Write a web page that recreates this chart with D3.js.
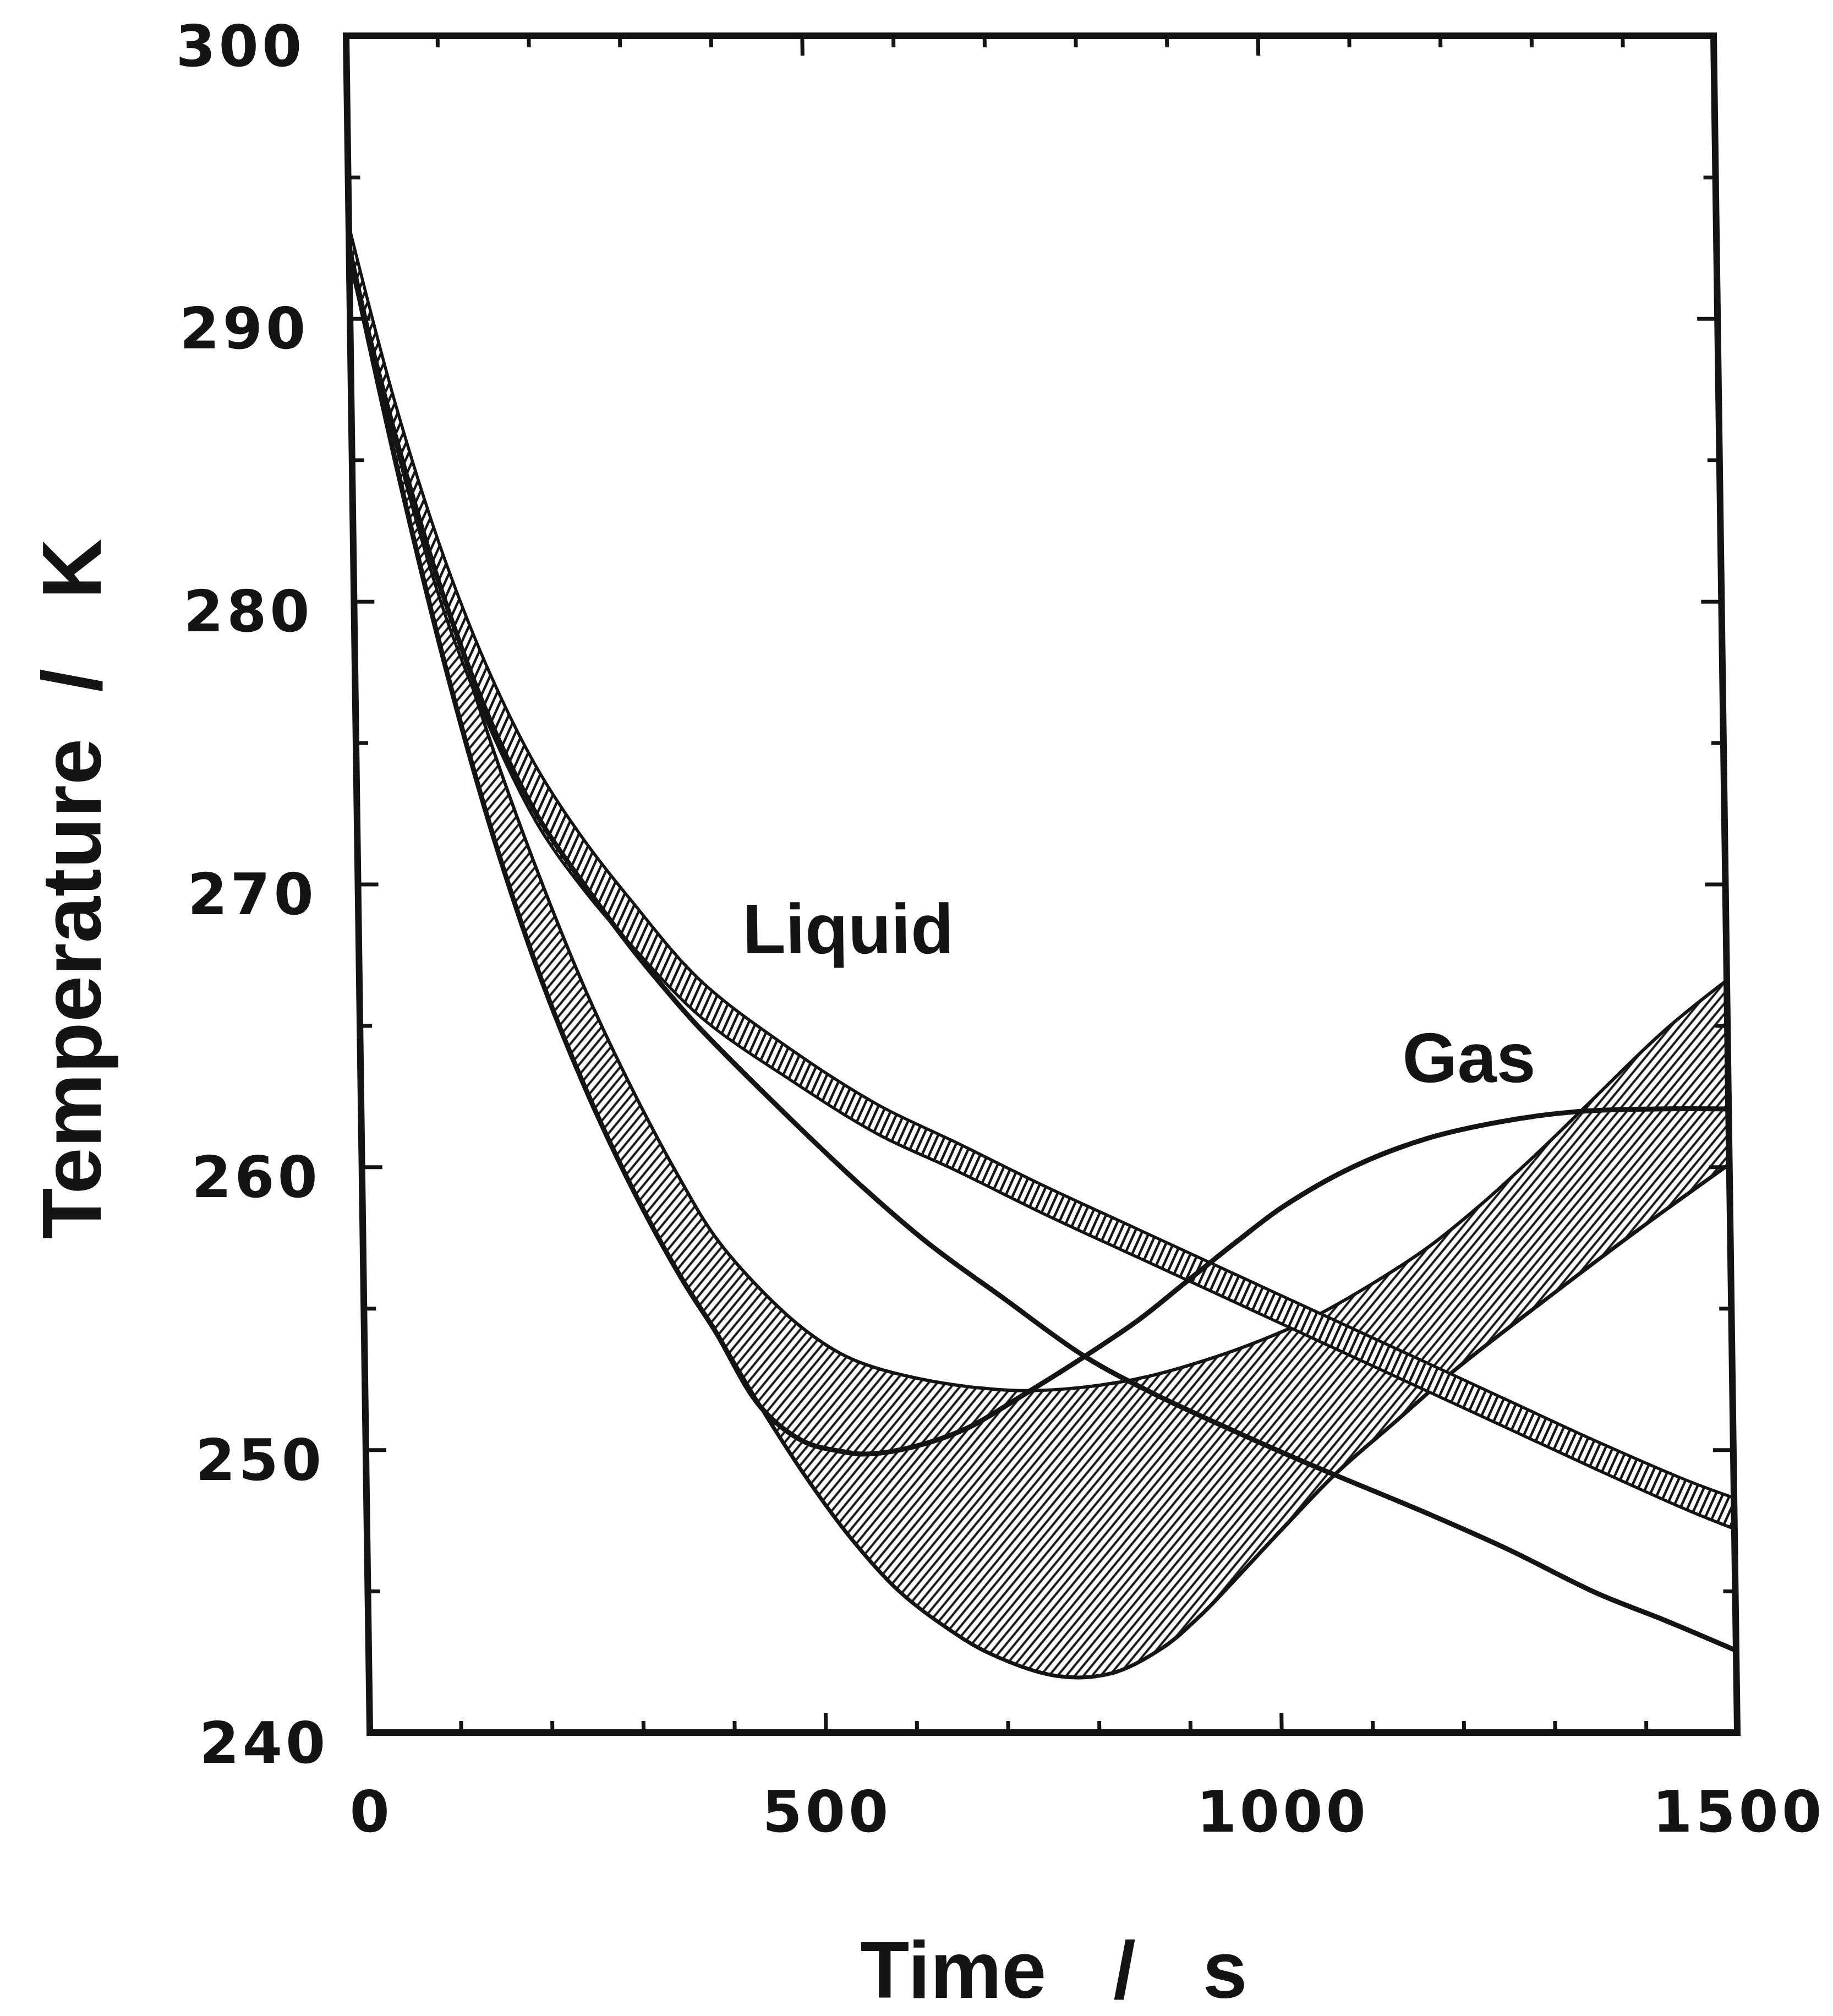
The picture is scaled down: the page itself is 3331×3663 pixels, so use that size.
<!DOCTYPE html>
<html>
<head>
<meta charset="utf-8">
<script src="https://cdn.jsdelivr.net/npm/d3@7"></script>
<style>
  body { margin: 0; background: #fff; }
  svg { display: block; }
</style>
</head>
<body>
<div id="chart"></div>
<script>
// axis ticks
const xMajor = [0, 500, 1000, 1500];
const xMinor = [100, 200, 300, 400, 600, 700, 800, 900, 1100, 1200, 1300, 1400];
const yMajor = [240, 250, 260, 270, 280, 290, 300];
const yMinor = [245, 255, 265, 275, 285, 295];

// [time s, temperature K]
// gas band, lower edge (shares its first part with the gas line)
const gasLow = [[0, 292.4], [50, 284.6], [100, 277.6], [150, 271.6], [200, 266.6], [250, 262.5],
  [300, 259.0], [350, 256.0], [385, 254.2], [434, 251.5], [483, 249.0], [530, 246.9], [581, 245.05],
  [630, 243.8], [681, 242.8], [755, 242.0], [815, 242.1], [871, 243.0], [915, 244.2], [957, 245.6],
  [1010, 247.4], [1065, 249.2], [1130, 251.0], [1195, 252.8], [1300, 255.4], [1400, 257.8], [1500, 260.1]];
// gas band, upper edge
const gasHigh = [[0, 293.0], [50, 286.1], [100, 280.1], [150, 274.8], [200, 270.2], [250, 266.1],
  [300, 262.6], [350, 259.5], [386, 257.55], [436, 255.65], [485, 254.2], [535, 253.2], [610, 252.5],
  [710, 252.1], [785, 252.2], [860, 252.6], [935, 253.3], [986, 253.9], [1036, 254.6], [1108, 255.9],
  [1170, 257.2], [1228, 258.7], [1290, 260.5], [1342, 262.1], [1430, 264.8], [1500, 266.6]];
// gas, single curve
const gasLine = [[0, 292.4], [50, 284.6], [100, 277.6], [150, 271.6], [200, 266.6], [250, 262.5],
  [300, 259.0], [350, 256.0], [385, 254.2], [434, 251.5], [480, 250.3], [520, 249.95], [549, 249.85],
  [600, 250.1], [659, 250.75], [720, 251.9], [785, 253.2], [850, 254.6], [901, 255.9], [960, 257.4],
  [1010, 258.6], [1087, 260.0], [1168, 261.0], [1250, 261.6], [1331, 261.95], [1420, 262.05], [1500, 262.05]];
// liquid band, upper and lower edge
const liqHigh = [[0, 293.3], [50, 286.8], [100, 281.5], [150, 277.3], [200, 274.0], [250, 271.5],
  [300, 269.4], [374, 266.6], [475, 264.1], [567, 262.2], [650, 260.9], [750, 259.3], [850, 257.8],
  [950, 256.3], [1050, 254.8], [1150, 253.3], [1250, 251.8], [1350, 250.3], [1450, 248.9], [1500, 248.3]];
const liqLow = [[0, 292.7], [50, 285.3], [100, 279.5], [150, 275.3], [200, 272.0], [250, 269.7],
  [300, 267.8], [374, 265.3], [475, 263.0], [567, 261.15], [650, 259.9], [750, 258.3], [850, 256.8],
  [950, 255.3], [1050, 253.8], [1150, 252.3], [1250, 250.8], [1350, 249.3], [1450, 247.85], [1500, 247.2]];
// liquid, single curve
const liqLine = [[0, 292.2], [50, 285.6], [100, 280.0], [150, 275.6], [200, 272.3], [250, 269.9],
  [300, 267.7], [330, 266.5], [370, 265.0], [474, 261.6], [552, 259.2], [620, 257.3], [700, 255.4], [790, 253.3],
  [864, 252.0], [950, 250.7], [1034, 249.5], [1167, 247.7], [1250, 246.5], [1350, 244.9], [1420, 244.0],
  [1500, 242.9]];

const annotations = [
  {text: "Liquid", t: 421, T: 267.55},
  {text: "Gas", t: 1143, T: 263.0}
];

const ink = "#141414";
const W = 2485, H = 3083;

const svg = d3.select("#chart").append("svg")
  .attr("width", 3331)
  .attr("height", 3663);
svg.append("rect").attr("width", 3331).attr("height", 3663).attr("fill", "#fff");

const defs = svg.append("defs");
function hatch(id, angle, gap, sw) {
  const p = defs.append("pattern")
    .attr("id", id)
    .attr("patternUnits", "userSpaceOnUse")
    .attr("width", gap).attr("height", gap)
    .attr("patternTransform", `rotate(${angle})`);
  p.append("line")
    .attr("x1", gap / 2).attr("x2", gap / 2)
    .attr("y1", -2).attr("y2", gap + 2)
    .attr("stroke", ink).attr("stroke-width", sw);
}
hatch("hatchGas", 40, 12, 4);
hatch("hatchLiq", 25, 12, 4.5);

defs.append("clipPath").attr("id", "plot")
  .append("rect").attr("width", W).attr("height", H);

// the scanned frame leans a little, so the plot is sheared to follow it
const g = svg.append("g").attr("transform", "translate(629,65) skewX(0.8)");

const x = d3.scaleLinear().domain([0, 1500]).range([0, W]);
const y = d3.scaleLinear().domain([240, 300]).range([H, 0]);

const line = d3.line()
  .x(d => x(d[0]))
  .y(d => y(d[1]))
  .curve(d3.curveCatmullRom.alpha(0.5));

function band(hi, lo) {
  const a = line(hi);
  const b = line(lo.slice().reverse());
  return a + "L" + b.slice(1) + "Z";
}

const curves = g.append("g").attr("clip-path", "url(#plot)");

// gas band
curves.append("path").attr("d", band(gasHigh, gasLow)).attr("fill", "url(#hatchGas)");
curves.append("path").attr("d", line(gasHigh))
  .attr("fill", "none").attr("stroke", ink).attr("stroke-width", 6);
curves.append("path").attr("d", line(gasLow))
  .attr("fill", "none").attr("stroke", ink).attr("stroke-width", 7);

// liquid band
curves.append("path").attr("d", band(liqHigh, liqLow)).attr("fill", "#fff");
curves.append("path").attr("d", band(liqHigh, liqLow)).attr("fill", "url(#hatchLiq)");
curves.selectAll(".liqEdge")
  .data([liqHigh, liqLow])
  .enter().append("path")
  .attr("class", "liqEdge")
  .attr("d", line)
  .attr("fill", "none").attr("stroke", ink).attr("stroke-width", 5.5);

// single curves
curves.selectAll(".solid")
  .data([liqLine, gasLine])
  .enter().append("path")
  .attr("class", "solid")
  .attr("d", line)
  .attr("fill", "none").attr("stroke", ink).attr("stroke-width", 9)
  .attr("stroke-linejoin", "round");

// frame
g.append("rect").attr("width", W).attr("height", H)
  .attr("fill", "none").attr("stroke", ink).attr("stroke-width", 12);

function styleAxis(sel) {
  sel.select(".domain").remove();
  sel.selectAll(".tick line").attr("stroke", ink).attr("stroke-width", 7);
  sel.selectAll("text")
    .attr("fill", ink)
    .attr("font-family", "DejaVu Sans")
    .attr("font-weight", "bold")
    .attr("font-size", 104)
    .attr("letter-spacing", 6);
}

// x ticks, bottom with labels, top mirrored
g.append("g").attr("transform", `translate(0,${H})`)
  .call(d3.axisBottom(x).tickValues(xMajor).tickSize(-36).tickPadding(106).tickFormat(d3.format("d")))
  .call(styleAxis);
g.append("g").attr("transform", `translate(0,${H})`)
  .call(d3.axisBottom(x).tickValues(xMinor).tickSize(-21).tickFormat(""))
  .call(styleAxis);
g.append("g")
  .call(d3.axisTop(x).tickValues(xMajor).tickSize(-36).tickFormat(""))
  .call(styleAxis);
g.append("g")
  .call(d3.axisTop(x).tickValues(xMinor).tickSize(-21).tickFormat(""))
  .call(styleAxis);

// y ticks, left with labels, right mirrored
g.append("g")
  .call(d3.axisLeft(y).tickValues(yMajor).tickSize(-37).tickPadding(75).tickFormat(d3.format("d")))
  .call(styleAxis)
  .selectAll("text").attr("dy", "0.52em");
g.append("g")
  .call(d3.axisLeft(y).tickValues(yMinor).tickSize(-22).tickFormat(""))
  .call(styleAxis);
g.append("g").attr("transform", `translate(${W},0)`)
  .call(d3.axisRight(y).tickValues(yMajor).tickSize(-37).tickFormat(""))
  .call(styleAxis);
g.append("g").attr("transform", `translate(${W},0)`)
  .call(d3.axisRight(y).tickValues(yMinor).tickSize(-22).tickFormat(""))
  .call(styleAxis);

// curve labels
g.selectAll(".note")
  .data(annotations)
  .enter().append("text")
  .attr("class", "note")
  .attr("x", d => x(d.t))
  .attr("y", d => y(d.T))
  .attr("fill", ink)
  .attr("font-family", "Liberation Sans, Arial, sans-serif")
  .attr("font-weight", "bold")
  .attr("font-size", 128)
  .text(d => d.text);

// axis titles
svg.append("text")
  .attr("x", 1915).attr("y", 3630)
  .attr("text-anchor", "middle")
  .attr("fill", ink)
  .attr("font-family", "Liberation Sans, Arial, sans-serif")
  .attr("font-weight", "bold")
  .attr("font-size", 146)
  .style("white-space", "pre")
  .text("Time   /   s");

svg.append("text")
  .attr("transform", "translate(183,1615) rotate(-90)")
  .attr("text-anchor", "middle")
  .attr("fill", ink)
  .attr("font-family", "Liberation Sans, Arial, sans-serif")
  .attr("font-weight", "bold")
  .attr("font-size", 152)
  .style("white-space", "pre")
  .text("Temperature  /   K");
</script>
</body>
</html>
